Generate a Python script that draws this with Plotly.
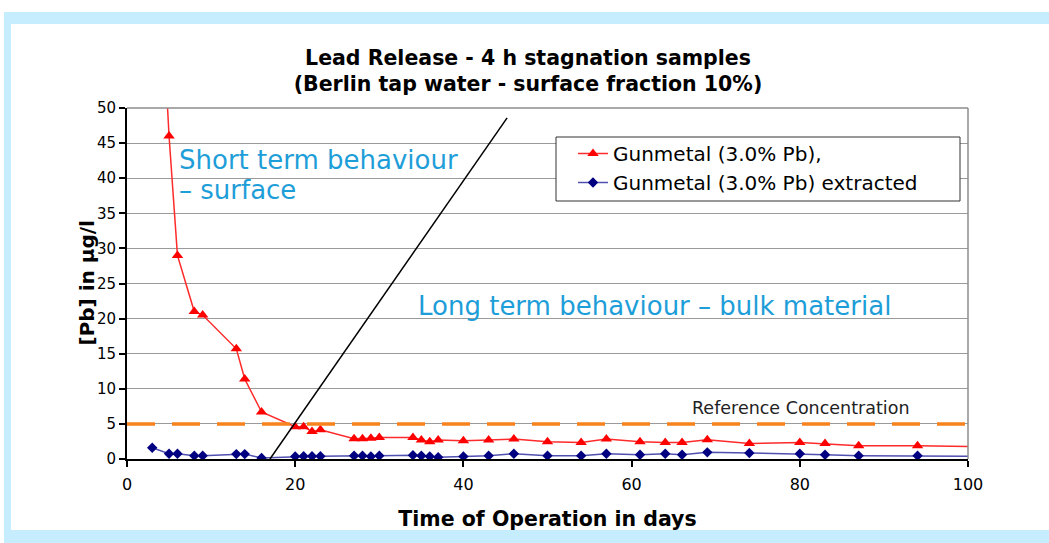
import plotly.graph_objects as go

# ---------------- data ----------------
red_name = "Gunmetal (3.0% Pb),"
red_days = [3, 5, 6, 8, 9, 13, 14, 16, 20, 21, 22, 23, 27, 28, 29, 30, 34, 35, 36, 37,
            40, 43, 46, 50, 54, 57, 61, 64, 66, 69, 74, 80, 83, 87, 94, 101]
red_pb = [91, 46, 29, 21, 20.5, 15.7, 11.4, 6.7, 4.6, 4.6, 3.9, 4.15, 2.9, 2.9, 2.95, 3.05,
          3.05, 2.7, 2.45, 2.7, 2.6, 2.7, 2.85, 2.45, 2.35, 2.85, 2.45, 2.35, 2.35, 2.75,
          2.2, 2.35, 2.2, 1.9, 1.9, 1.75]

blue_name = "Gunmetal (3.0% Pb) extracted"
blue_days = [3, 5, 6, 8, 9, 13, 14, 16, 20, 21, 22, 23, 27, 28, 29, 30, 34, 35, 36, 37,
             40, 43, 46, 50, 54, 57, 61, 64, 66, 69, 74, 80, 83, 87, 94, 101]
blue_pb = [1.6, 0.75, 0.75, 0.47, 0.47, 0.7, 0.7, 0.15, 0.37, 0.4, 0.4, 0.4, 0.47, 0.47,
           0.37, 0.47, 0.55, 0.47, 0.37, 0.25, 0.37, 0.47, 0.75, 0.47, 0.47, 0.75, 0.6,
           0.75, 0.6, 0.95, 0.85, 0.75, 0.6, 0.47, 0.47, 0.37]

reference_concentration = 5
divider_days = [17, 45.2]
divider_pb = [0, 48.6]

x_ticks = [0, 20, 40, 60, 80, 100]
y_ticks = [0, 5, 10, 15, 20, 25, 30, 35, 40, 45, 50]

title_text = "Lead Release - 4 h stagnation samples<br>(Berlin tap water - surface fraction 10%)"
x_title = "Time of Operation in days"
y_title = "[Pb] in µg/l"

# ---------------- layout geometry ----------------
W, H = 1049, 543
ML, MR, MT, MB = 127, 81, 108, 84
PW, PH = W - ML - MR, H - MT - MB


def px(xp):
    return (xp - ML) / PW


def py(yp):
    return (H - MB - yp) / PH


FONT = "DejaVu Sans, Arial, sans-serif"
ANN_BLUE = "#1E9ED8"
FRAME = "#C5EDFD"

fig = go.Figure()

fig.add_trace(go.Scatter(
    x=red_days, y=red_pb, name=red_name, mode="lines+markers",
    line=dict(color="#FF2A2A", width=1.5),
    marker=dict(symbol="triangle-up", size=10, color="#FF0000"),
))
fig.add_trace(go.Scatter(
    x=blue_days, y=blue_pb, name=blue_name, mode="lines+markers",
    line=dict(color="#5050B0", width=1.5),
    marker=dict(symbol="diamond", size=8, color="#000080"),
))
# reference concentration dashed line
fig.add_trace(go.Scatter(
    x=[0, 100], y=[reference_concentration] * 2, mode="lines", showlegend=False,
    line=dict(color="#F7821E", width=3.5, dash="28px,17px"), hoverinfo="skip",
))
# divider line
fig.add_trace(go.Scatter(
    x=divider_days, y=divider_pb, mode="lines", showlegend=False,
    line=dict(color="black", width=1.5), hoverinfo="skip",
))

shapes = [
    # light blue frame: left, top, bottom strips
    dict(type="rect", xref="paper", yref="paper", x0=px(4), x1=px(11), y0=py(H + 5), y1=py(12),
         fillcolor=FRAME, line=dict(width=0), layer="below"),
    dict(type="rect", xref="paper", yref="paper", x0=px(4), x1=px(W + 5), y0=py(24), y1=py(12),
         fillcolor=FRAME, line=dict(width=0), layer="below"),
    dict(type="rect", xref="paper", yref="paper", x0=px(4), x1=px(W + 5), y0=py(H + 5), y1=py(530),
         fillcolor=FRAME, line=dict(width=0), layer="below"),
    # white panel on the right edge (no frame strip there)
    dict(type="rect", xref="paper", yref="paper", x0=px(1000), x1=px(W + 20), y0=py(530), y1=py(24),
         fillcolor="white", line=dict(width=0), layer="above"),
    # plot-area border (top / right)
    dict(type="line", xref="paper", yref="paper", x0=0, x1=1, y0=1, y1=1,
         line=dict(color="#8C8C8C", width=1.5)),
    dict(type="line", xref="paper", yref="paper", x0=1, x1=1, y0=0, y1=1,
         line=dict(color="#8C8C8C", width=1.5)),
    # legend box
    dict(type="rect", xref="paper", yref="paper", x0=px(556), x1=px(960), y0=py(201), y1=py(137),
         fillcolor="white", line=dict(color="#333333", width=1), layer="above"),
]

annotations = [
    dict(text="Short term behaviour", x=6.0, y=(H - MB - 160) / PH * 50, xref="x", yref="y",
         xanchor="left", yanchor="middle", showarrow=False,
         font=dict(family=FONT, size=26, color=ANN_BLUE)),
    dict(text="– surface", x=6.0, y=(H - MB - 190) / PH * 50, xref="x", yref="y",
         xanchor="left", yanchor="middle", showarrow=False,
         font=dict(family=FONT, size=26, color=ANN_BLUE)),
    dict(text="Long term behaviour – bulk material", x=62.7, y=21.8, xref="x", yref="y",
         xanchor="center", yanchor="middle", showarrow=False,
         font=dict(family=FONT, size=26, color=ANN_BLUE)),
    dict(text="Reference Concentration", x=80.1, y=7.3, xref="x", yref="y",
         xanchor="center", yanchor="middle", showarrow=False,
         font=dict(family=FONT, size=17.5, color="#222222")),
    # y-axis title
    dict(text="<b>" + y_title + "</b>", x=px(86), y=0.5, xref="paper", yref="paper",
         xanchor="center", yanchor="middle", textangle=-90, showarrow=False,
         font=dict(family=FONT, size=20, color="black")),
]

fig.update_layout(
    width=W, height=H,
    margin=dict(l=ML, r=MR, t=MT, b=MB),
    paper_bgcolor="white", plot_bgcolor="white",
    font=dict(family=FONT, color="black"),
    title=dict(text="<b>" + title_text + "</b>", x=px(528), xref="paper", xanchor="center",
               y=1 - 64.5 / H, yanchor="middle", font=dict(family=FONT, size=20.5, color="black")),
    showlegend=True,
    legend=dict(x=px(573), y=py(134), xanchor="left", yanchor="top",
                bgcolor="rgba(0,0,0,0)", borderwidth=0,
                font=dict(family=FONT, size=20, color="black"),
                itemwidth=30, tracegroupgap=0),
    shapes=shapes,
    annotations=annotations,
)

fig.update_xaxes(
    range=[0, 100], tickvals=x_ticks, ticks="outside", ticklen=6, tickwidth=1.5,
    tickcolor="black", showline=True, linecolor="black", linewidth=2,
    showgrid=False, zeroline=False, ticklabelstandoff=4,
    tickfont=dict(family=FONT, size=16, color="black"),
    title=dict(text="<b>" + x_title + "</b>", font=dict(family=FONT, size=20.5, color="black"),
               standoff=18),
)
fig.update_yaxes(
    range=[0, 50], tickvals=y_ticks, ticks="outside", ticklen=6, tickwidth=1.5,
    tickcolor="black", showline=True, linecolor="black", linewidth=2,
    showgrid=True, gridcolor="#9A9A9A", gridwidth=1.3, zeroline=False,
    tickfont=dict(family=FONT, size=15, color="black"),
)

fig.write_html(
    "out.html", config={"displayModeBar": False},
    post_script=("document.body.style.margin='0px';"
                 "document.body.style.overflow='hidden';"
                 "document.documentElement.style.overflow='hidden';"),
)
